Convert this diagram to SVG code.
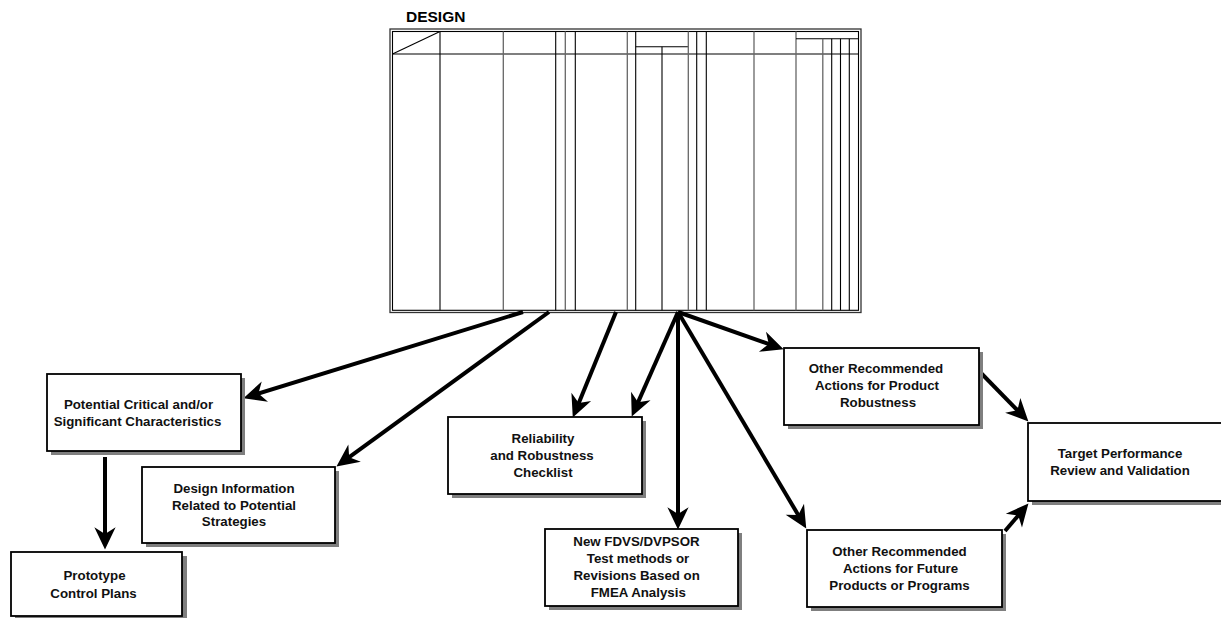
<svg xmlns="http://www.w3.org/2000/svg" width="1221" height="618" viewBox="0 0 1221 618">
  <style>
    .lbl { font-family: "Liberation Sans", Arial, sans-serif; font-weight: bold; font-size: 13.3px; fill: #111; text-anchor: middle; }
    .title { font-family: "Liberation Sans", Arial, sans-serif; font-weight: bold; font-size: 15.5px; fill: #000; }
    .box { fill: #fff; stroke: #000; stroke-width: 1.8; }
    .shadow { fill: #7f7f7f; }
    .grid { stroke: #000; stroke-width: 1.1; fill: none; }
    .grid-g { stroke: #666; stroke-width: 1.3; fill: none; }
    .conn { stroke: #000; stroke-width: 4; fill: none; marker-end: url(#head); }
  </style>
  <defs>
    <marker id="head" markerUnits="userSpaceOnUse" markerWidth="28" markerHeight="28" viewBox="-17 -12 25 24" refX="0" refY="0" orient="auto">
      <path d="M5,0 L-15,-9.5 L-9,0 L-15,9.5 Z" fill="#000"/>
    </marker>
  </defs>

  <rect width="1221" height="618" fill="#fff"/>

  <!-- worksheet form -->
  <g id="design-form">
    <text class="title" x="406" y="21.7">DESIGN</text>
    <rect x="390" y="29" width="471" height="283.5" fill="#fff" stroke="#333" stroke-width="1.3"/>
    <rect x="392.5" y="31.5" width="466" height="278.8" class="grid"/>
    <!-- header row -->
    <line class="grid" x1="392.5" y1="54" x2="858.5" y2="54"/>
    <line class="grid" x1="392.5" y1="54" x2="440" y2="31.5"/>
    <!-- columns -->
    <line class="grid" x1="440" y1="31.5" x2="440" y2="310.3"/>
    <line class="grid-g" x1="503.3" y1="31.5" x2="503.3" y2="310.3"/>
    <line class="grid" x1="555.7" y1="31.5" x2="555.7" y2="310.3"/>
    <line class="grid-g" x1="565.3" y1="31.5" x2="565.3" y2="310.3"/>
    <line class="grid" x1="575.3" y1="31.5" x2="575.3" y2="310.3"/>
    <line class="grid-g" x1="627.3" y1="31.5" x2="627.3" y2="310.3"/>
    <line class="grid" x1="635.7" y1="31.5" x2="635.7" y2="310.3"/>
    <line class="grid" x1="635.7" y1="46.7" x2="688.3" y2="46.7"/>
    <line class="grid" x1="662" y1="46.7" x2="662" y2="310.3"/>
    <line class="grid-g" x1="688.3" y1="31.5" x2="688.3" y2="310.3"/>
    <line class="grid" x1="696.7" y1="31.5" x2="696.7" y2="310.3"/>
    <line class="grid" x1="706.3" y1="31.5" x2="706.3" y2="310.3"/>
    <line class="grid-g" x1="754" y1="31.5" x2="754" y2="310.3"/>
    <line class="grid-g" x1="796" y1="31.5" x2="796" y2="310.3"/>
    <line class="grid" x1="796" y1="38.8" x2="858.5" y2="38.8"/>
    <line class="grid-g" x1="822.8" y1="38.8" x2="822.8" y2="310.3"/>
    <line class="grid" x1="831.7" y1="38.8" x2="831.7" y2="310.3"/>
    <line class="grid" x1="840.5" y1="38.8" x2="840.5" y2="310.3"/>
    <line class="grid" x1="849.3" y1="38.8" x2="849.3" y2="310.3"/>
  </g>

  <!-- connectors -->
  <g id="connectors">
    <line class="conn" x1="523" y1="312" x2="248.8" y2="396.5"/>
    <line class="conn" x1="549" y1="312" x2="341" y2="463.1"/>
    <line class="conn" x1="616" y1="312" x2="574.9" y2="412.4"/>
    <line class="conn" x1="678" y1="312" x2="634" y2="411.4"/>
    <line class="conn" x1="678" y1="312" x2="678" y2="524"/>
    <line class="conn" x1="678" y1="312" x2="803.4" y2="523.7"/>
    <line class="conn" x1="678" y1="312" x2="778.3" y2="347.3"/>
    <line class="conn" x1="980" y1="372" x2="1024.5" y2="417.4"/>
    <line class="conn" x1="1005" y1="531" x2="1024.8" y2="507.8"/>
    <line class="conn" x1="105" y1="457" x2="105" y2="544" stroke-width="4.8"/>
  </g>

  <g id="node-critical">
    <rect class="shadow" x="51" y="378" width="194" height="77"/>
    <rect class="box" x="47" y="374" width="194" height="77"/>
    <text class="lbl" x="138.5" y="409.3">Potential Critical and/or</text>
    <text class="lbl" x="137.5" y="426">Significant Characteristics</text>
  </g>

  <g id="node-design-info">
    <rect class="shadow" x="146" y="471" width="193" height="76"/>
    <rect class="box" x="142" y="467" width="193" height="76"/>
    <text class="lbl" x="234" y="493.3">Design Information</text>
    <text class="lbl" x="234" y="509.5">Related to Potential</text>
    <text class="lbl" x="234" y="525.7">Strategies</text>
  </g>

  <g id="node-prototype">
    <rect class="shadow" x="15" y="556" width="172" height="64"/>
    <rect class="box" x="11" y="552" width="171" height="64"/>
    <text class="lbl" x="94.5" y="580">Prototype</text>
    <text class="lbl" x="93.5" y="597.5">Control Plans</text>
  </g>

  <g id="node-reliability">
    <rect class="shadow" x="452" y="421" width="194" height="77"/>
    <rect class="box" x="448" y="417" width="194" height="77"/>
    <text class="lbl" x="543" y="442.7">Reliability</text>
    <text class="lbl" x="542" y="459.5">and Robustness</text>
    <text class="lbl" x="543" y="476.5">Checklist</text>
  </g>

  <g id="node-test-methods">
    <rect class="shadow" x="549" y="533" width="193" height="77"/>
    <rect class="box" x="545" y="529" width="193" height="77"/>
    <text class="lbl" x="636.5" y="545.7">New FDVS/DVPSOR</text>
    <text class="lbl" x="638" y="562.7">Test methods or</text>
    <text class="lbl" x="636.7" y="579.8">Revisions Based on</text>
    <text class="lbl" x="638.3" y="596.7">FMEA Analysis</text>
  </g>

  <g id="node-product-actions">
    <rect class="shadow" x="788" y="352" width="195" height="77"/>
    <rect class="box" x="784" y="348" width="195" height="77"/>
    <text class="lbl" x="876" y="373.3">Other Recommended</text>
    <text class="lbl" x="877" y="390">Actions for Product</text>
    <text class="lbl" x="878" y="406.7">Robustness</text>
  </g>

  <g id="node-future-actions">
    <rect class="shadow" x="811" y="534" width="195" height="77"/>
    <rect class="box" x="807" y="530" width="195" height="77"/>
    <text class="lbl" x="899.5" y="556">Other Recommended</text>
    <text class="lbl" x="900.5" y="573.3">Actions for Future</text>
    <text class="lbl" x="899.5" y="590">Products or Programs</text>
  </g>

  <g id="node-target">
    <rect class="shadow" x="1032" y="427" width="200" height="78"/>
    <rect class="box" x="1028" y="423" width="200" height="78"/>
    <text class="lbl" x="1120" y="458.3">Target Performance</text>
    <text class="lbl" x="1120" y="475">Review and Validation</text>
  </g>
</svg>
